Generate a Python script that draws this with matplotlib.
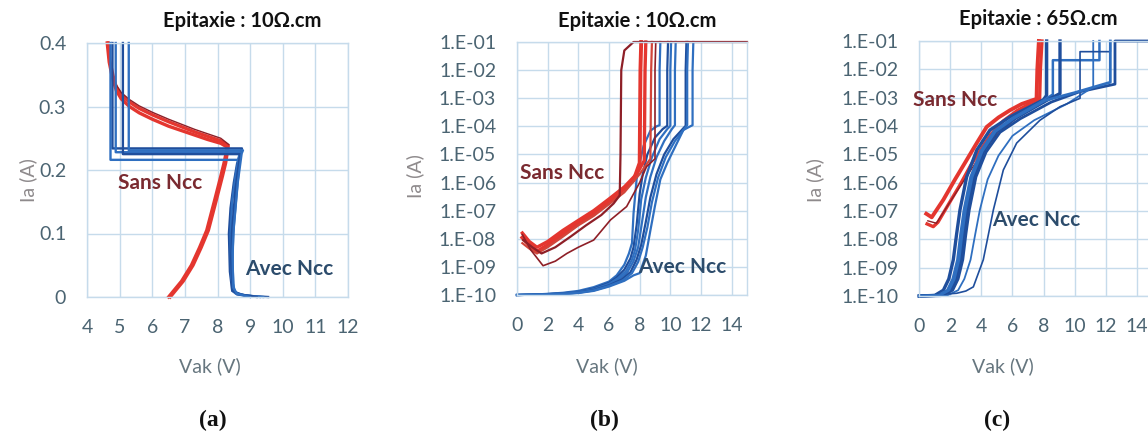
import matplotlib
matplotlib.use("Agg")
import matplotlib.pyplot as plt
from matplotlib.ticker import FixedLocator, FixedFormatter, NullLocator

plt.rcParams['font.family'] = ['Lato', 'DejaVu Sans']

W, H = 1148, 437

# ---------------- Panel (a) data : linear Ia vs Vak ----------------
a_xticks = [4, 5, 6, 7, 8, 9, 10, 11, 12]
a_yticks = [0, 0.1, 0.2, 0.3, 0.4]
a_ytick_labels = ['0', '0.1', '0.2', '0.3', '0.4']

a_red1_x = [6.50, 6.90, 7.20, 7.45, 7.67, 7.90, 8.10, 8.20, 8.30, 8.10, 7.70, 7.30, 6.90, 6.50, 6.00, 5.60, 5.30, 5.05, 4.90, 4.78, 4.68, 4.62]
a_red1_y = [0.000, 0.025, 0.050, 0.078, 0.105, 0.150, 0.190, 0.211, 0.236, 0.242, 0.248, 0.255, 0.262, 0.269, 0.280, 0.290, 0.300, 0.312, 0.325, 0.345, 0.370, 0.400]
a_red2_x = [6.55, 6.95, 7.25, 7.50, 7.72, 7.95, 8.15, 8.25, 8.33, 8.10, 7.70, 7.30, 6.90, 6.50, 6.00, 5.60, 5.30, 5.05, 4.90, 4.80, 4.70, 4.65]
a_red2_y = [0.000, 0.025, 0.050, 0.078, 0.105, 0.150, 0.190, 0.211, 0.238, 0.246, 0.253, 0.260, 0.268, 0.276, 0.287, 0.297, 0.307, 0.318, 0.330, 0.348, 0.372, 0.400]
a_dred_x = [8.35, 8.10, 7.70, 7.30, 6.90, 6.50, 6.00, 5.60, 5.30, 5.05, 4.90]
a_dred_y = [0.240, 0.250, 0.257, 0.264, 0.272, 0.280, 0.291, 0.301, 0.311, 0.322, 0.334]

a_blue1_x = [9.55, 9.20, 8.90, 8.60, 8.45, 8.38, 8.35, 8.40, 8.50, 8.60, 8.72, 8.75, 6.00, 4.78, 4.78, 4.78]
a_blue1_y = [0.000, 0.001, 0.002, 0.004, 0.010, 0.040, 0.100, 0.140, 0.180, 0.210, 0.230, 0.234, 0.234, 0.234, 0.300, 0.400]
a_blue2_x = [9.40, 8.90, 8.55, 8.42, 8.40, 8.45, 8.55, 8.66, 8.70, 6.00, 4.88, 4.88]
a_blue2_y = [0.000, 0.002, 0.006, 0.030, 0.100, 0.150, 0.190, 0.222, 0.228, 0.228, 0.228, 0.400]
a_blue3_x = [9.30, 8.80, 8.50, 8.46, 8.48, 8.58, 8.66, 8.68, 6.00, 4.72, 4.72]
a_blue3_y = [0.000, 0.003, 0.008, 0.050, 0.100, 0.160, 0.205, 0.216, 0.216, 0.216, 0.400]
a_blue4_x = [9.20, 8.70, 8.45, 8.42, 8.44, 8.55, 8.68, 8.72, 6.00, 5.10, 5.10]
a_blue4_y = [0.000, 0.004, 0.010, 0.060, 0.100, 0.170, 0.220, 0.225, 0.225, 0.225, 0.400]
a_blue5_x = [9.00, 8.60, 8.48, 8.46, 8.50, 8.62, 8.74, 8.78, 6.00, 5.28, 5.28]
a_blue5_y = [0.000, 0.005, 0.015, 0.070, 0.110, 0.180, 0.226, 0.231, 0.231, 0.231, 0.400]

# ---------------- Panel (b) data : log Ia vs Vak, 10 ohm.cm ----------------
log_ticks = [1e-10, 1e-9, 1e-8, 1e-7, 1e-6, 1e-5, 1e-4, 1e-3, 1e-2, 1e-1]
log_labels = ['1.E-10', '1.E-09', '1.E-08', '1.E-07', '1.E-06', '1.E-05', '1.E-04', '1.E-03', '1.E-02', '1.E-01']
bc_xticks = [0, 2, 4, 6, 8, 10, 12, 14]

b_red1_x = [0.35, 0.8, 1.3, 2.0, 3.0, 4.0, 5.0, 6.0, 7.0, 7.6, 8.0, 8.05, 8.1]
b_red1_y = [1.1e-8, 6e-9, 3.5e-9, 6e-9, 1.5e-8, 3.5e-8, 7.5e-8, 2e-7, 6e-7, 1.2e-6, 5e-6, 1e-2, 1e-1]
b_red2_x = [0.35, 0.8, 1.3, 2.0, 3.0, 4.0, 5.0, 6.0, 7.0, 7.8, 8.3, 8.35, 8.4]
b_red2_y = [1.6e-8, 8e-9, 5e-9, 8e-9, 2e-8, 4.5e-8, 1e-7, 2.6e-7, 7e-7, 2e-6, 6e-6, 1e-2, 1e-1]
b_red3_x = [0.35, 0.8, 1.3, 2.0, 3.0, 4.0, 5.0, 6.0, 7.0, 8.0, 8.7, 8.75, 8.8]
b_red3_y = [7e-9, 4.5e-9, 3e-9, 5e-9, 1.2e-8, 3e-8, 6.5e-8, 1.7e-7, 4.5e-7, 2e-6, 7e-6, 1e-2, 1e-1]
b_dred1_x = [0.35, 0.9, 1.7, 2.5, 3.25, 4.0, 5.0, 6.1, 7.15, 8.0, 8.45, 9.0, 9.0, 9.05]
b_dred1_y = [1.4e-8, 4e-9, 1.1e-9, 1.6e-9, 3e-9, 5e-9, 9e-9, 4.7e-8, 1.4e-7, 1e-6, 3.7e-6, 7e-6, 1e-2, 1e-1]
b_dred2_x = [0.4, 1.0, 1.6, 2.5, 3.5, 4.5, 5.5, 6.3, 6.7, 6.75, 6.8, 7.0, 7.6, 15.0]
b_dred2_y = [9e-9, 5e-9, 3e-9, 5e-9, 1.2e-8, 3e-8, 7e-8, 1.8e-7, 3.5e-7, 1e-5, 1e-2, 5e-2, 1e-1, 1e-1]

b_blue1_x = [0, 1, 2, 3, 4, 5, 6, 6.5, 7.0, 7.3, 7.5, 7.6, 7.8, 8.0, 8.25, 8.7, 9.1, 9.3, 9.3, 9.35]
b_blue1_y = [1e-10, 1.03e-10, 1.1e-10, 1.2e-10, 1.4e-10, 1.9e-10, 3e-10, 5e-10, 1.2e-9, 3e-9, 7e-9, 8e-8, 1.3e-6, 5e-6, 2e-5, 7e-5, 1e-4, 1.1e-4, 1e-2, 1e-1]
b_blue2_x = [0, 1, 2, 3, 4, 5, 6, 6.5, 7.0, 7.4, 7.6, 7.8, 8.0, 8.2, 8.5, 9.0, 9.5, 9.8, 9.8, 9.85]
b_blue2_y = [1e-10, 1.03e-10, 1.08e-10, 1.15e-10, 1.3e-10, 1.7e-10, 2.7e-10, 4.2e-10, 8e-10, 2e-9, 5e-9, 3e-8, 4e-7, 2e-6, 1e-5, 4e-5, 8e-5, 1.05e-4, 1e-2, 1e-1]
b_blue3_x = [0, 1, 2, 3, 4, 5, 6, 6.6, 7.1, 7.5, 7.7, 7.9, 8.1, 8.4, 8.8, 9.3, 9.8, 10.0, 10.0, 10.05]
b_blue3_y = [1e-10, 1.02e-10, 1.07e-10, 1.14e-10, 1.28e-10, 1.6e-10, 2.5e-10, 4e-10, 7e-10, 1.8e-9, 4e-9, 2e-8, 2.5e-7, 1.5e-6, 8e-6, 3.5e-5, 8e-5, 1.05e-4, 1e-2, 1e-1]
b_blue4_x = [0, 1, 2, 3, 4, 5, 6, 6.7, 7.2, 7.6, 7.9, 8.1, 8.4, 8.7, 9.1, 9.6, 10.1, 10.3, 10.3, 10.35]
b_blue4_y = [1e-10, 1.02e-10, 1.06e-10, 1.12e-10, 1.25e-10, 1.55e-10, 2.3e-10, 3.8e-10, 6.5e-10, 1.6e-9, 5e-9, 2.5e-8, 3e-7, 1.6e-6, 8e-6, 3e-5, 8e-5, 1.1e-4, 1e-2, 1e-1]
b_blue5_x = [0, 1, 2, 3, 4, 5, 6, 6.8, 7.4, 7.8, 8.1, 8.4, 8.7, 9.1, 9.6, 10.2, 10.8, 11.0, 11.0, 11.05]
b_blue5_y = [1e-10, 1.02e-10, 1.05e-10, 1.1e-10, 1.22e-10, 1.5e-10, 2.2e-10, 3.5e-10, 6.5e-10, 1.8e-9, 6e-9, 4e-8, 3e-7, 2e-6, 1e-5, 3.5e-5, 8e-5, 1.05e-4, 1e-2, 1e-1]
b_blue6_x = [0, 1, 2, 3, 4, 5, 6, 6.9, 7.5, 7.9, 8.2, 8.5, 8.8, 9.2, 9.7, 10.3, 10.9, 11.1, 11.1, 11.15]
b_blue6_y = [1e-10, 1.02e-10, 1.05e-10, 1.1e-10, 1.2e-10, 1.45e-10, 2.1e-10, 3.3e-10, 6e-10, 1.5e-9, 5e-9, 2.5e-8, 2e-7, 1.5e-6, 8e-6, 3e-5, 8e-5, 1.1e-4, 1e-2, 1e-1]
b_blue7_x = [0, 1, 2, 3, 4, 5, 6, 7.0, 7.6, 8.0, 8.4, 8.7, 9.0, 9.35, 9.8, 10.2, 10.85, 11.3, 11.45, 11.45, 11.5]
b_blue7_y = [1e-10, 1.02e-10, 1.04e-10, 1.08e-10, 1.18e-10, 1.4e-10, 2e-10, 3.2e-10, 5e-10, 6e-10, 2.5e-9, 2e-8, 1.5e-7, 1.3e-6, 5e-6, 1.4e-5, 7.4e-5, 1e-4, 1.1e-4, 1e-2, 1e-1]

# ---------------- Panel (c) data : log Ia vs Vak, 65 ohm.cm ----------------
c_red1_x = [0.45, 0.8, 1.55, 2.3, 3.05, 3.7, 4.34, 5.1, 5.84, 6.6, 7.34, 7.55, 7.6, 7.7]
c_red1_y = [8e-8, 6e-8, 2.5e-7, 1.3e-6, 6.3e-6, 2.5e-5, 9.3e-5, 2e-4, 3.6e-4, 6e-4, 8.3e-4, 9e-4, 1e-2, 1e-1]
c_red2_x = [0.5, 0.9, 1.2, 1.9, 2.6, 3.3, 3.9, 4.6, 5.4, 6.3, 7.2, 7.75, 7.8, 7.9]
c_red2_y = [3.5e-8, 2.8e-8, 4e-8, 1.8e-7, 8e-7, 4e-6, 1.3e-5, 5e-5, 1.5e-4, 3.5e-4, 6.5e-4, 9e-4, 1e-2, 1e-1]
c_dred_x = [0.55, 1.1, 2.6, 3.9, 5.0, 6.5, 7.5]
c_dred_y = [4.5e-8, 3.7e-8, 7e-7, 8.5e-6, 5e-5, 2.5e-4, 6e-4]

c_blue1_x = [0, 1.0, 1.55, 1.9, 2.19, 2.4, 2.62, 3.05, 3.7, 4.55, 5.84, 7.98, 8.2, 8.2]
c_blue1_y = [1e-10, 1.05e-10, 1.6e-10, 4e-10, 1.9e-9, 1.5e-8, 1.1e-7, 1.6e-6, 1.4e-5, 7.2e-5, 2.1e-4, 8.3e-4, 1.2e-3, 1e-1]
c_blue2_x = [0, 1.2, 1.8, 2.15, 2.45, 2.65, 2.87, 3.3, 3.95, 4.8, 6.0, 8.0, 8.6, 8.6, 11.6, 11.6]
c_blue2_y = [1e-10, 1.05e-10, 1.6e-10, 4e-10, 1.9e-9, 1.5e-8, 1.1e-7, 1.6e-6, 1.3e-5, 6.5e-5, 1.9e-4, 8e-4, 1.3e-3, 2.1e-2, 2.1e-2, 1e-1]
c_blue3_x = [0, 1.4, 2.0, 2.35, 2.65, 2.85, 3.07, 3.5, 4.15, 5.0, 6.2, 8.2, 9.06, 9.06]
c_blue3_y = [1e-10, 1.05e-10, 1.6e-10, 4e-10, 1.9e-9, 1.5e-8, 1.1e-7, 1.6e-6, 1.3e-5, 6.5e-5, 1.9e-4, 8e-4, 1.4e-3, 1e-1]
c_blue4_x = [0, 1.5, 2.15, 2.5, 2.8, 3.0, 3.22, 3.65, 4.3, 5.2, 6.5, 8.5, 10.3, 12.6, 12.6, 16.0]
c_blue4_y = [1e-10, 1.05e-10, 1.6e-10, 4e-10, 1.9e-9, 1.5e-8, 1.1e-7, 1.6e-6, 1.2e-5, 6e-5, 1.8e-4, 7e-4, 1.6e-3, 3e-3, 1e-1, 1e-1]
c_blue5_x = [0, 1.8, 2.5, 2.9, 3.3, 3.6, 3.9, 4.4, 5.1, 6.0, 7.4, 9.5, 11.2, 11.2]
c_blue5_y = [1e-10, 1.05e-10, 1.6e-10, 4e-10, 1.9e-9, 1.5e-8, 1.1e-7, 1.3e-6, 9e-6, 4.5e-5, 1.6e-4, 6e-4, 2.4e-3, 1e-1]
c_blue6_x = [0, 2.41, 3.0, 3.48, 4.12, 4.77, 5.41, 6.27, 7.77, 9.06, 10.35, 10.35, 12.3, 12.3]
c_blue6_y = [1e-10, 1.25e-10, 1.5e-10, 2.1e-10, 1.9e-9, 1.1e-7, 2.8e-6, 2.5e-5, 1.6e-4, 4.8e-4, 9.5e-4, 4.2e-2, 4.2e-2, 1e-1]
c_blue7_x = [0, 1.3, 1.9, 2.25, 2.55, 2.75, 2.97, 3.4, 4.05, 4.9, 6.1, 8.1, 10.0, 12.3, 12.3]
c_blue7_y = [1e-10, 1.05e-10, 1.6e-10, 4e-10, 1.9e-9, 1.5e-8, 1.1e-7, 1.6e-6, 1.3e-5, 6.5e-5, 1.9e-4, 8e-4, 1.5e-3, 3.5e-3, 1e-1]

# ---------------- Styling ----------------
RED = '#e4362f'
DRED = '#8e1f27'
BLUE = '#2f6fc0'
DBLUE = '#1f4e9c'
GRID = '#c6dbeb'
TICKC = '#4b6472'
LABC = '#66767f'
YLABC = '#8e8a8c'
SANS_C = '#7a2a30'
AVEC_C = '#2c4c6c'

fig = plt.figure(figsize=(W / 100, H / 100), dpi=100)
fig.patch.set_facecolor('white')


def px_axes(l, r, t, b):
    return fig.add_axes([l / W, 1 - b / H, (r - l) / W, (b - t) / H])


def style(ax):
    for s in ax.spines.values():
        s.set_color(GRID)
        s.set_linewidth(1.0)
    ax.grid(True, color=GRID, linewidth=1.0)
    ax.set_axisbelow(True)
    ax.tick_params(length=0, labelsize=14, labelcolor=TICKC)
    ax.tick_params(axis='x', pad=16)
    ax.tick_params(axis='y', pad=15)


def ftext(x, y, s, **kw):
    fig.text(x / W, 1 - y / H, s, **kw)


def draw(ax, x, y, c, lw):
    ax.plot(x, y, color=c, linewidth=lw, clip_on=False, solid_joinstyle='round')


# Panel (a)
axa = px_axes(87, 348, 43, 297)
style(axa)
axa.set_xlim(4, 12)
axa.set_ylim(0, 0.4)
axa.set_xticks(a_xticks)
axa.set_yticks(a_yticks)
axa.set_yticklabels(a_ytick_labels)
draw(axa, a_red1_x, a_red1_y, RED, 2.4)
draw(axa, a_red2_x, a_red2_y, RED, 2.4)
draw(axa, a_dred_x, a_dred_y, DRED, 1.0)
for bx, by, c in [(a_blue1_x, a_blue1_y, DBLUE), (a_blue2_x, a_blue2_y, BLUE),
                  (a_blue3_x, a_blue3_y, BLUE), (a_blue4_x, a_blue4_y, DBLUE),
                  (a_blue5_x, a_blue5_y, BLUE)]:
    draw(axa, bx, by, c, 1.7)

# Panel (b)
axb = px_axes(517, 747, 42, 295)
style(axb)
axb.set_yscale('log')
axb.set_xlim(0, 15)
axb.set_ylim(1e-10, 1e-1)
axb.set_xticks(bc_xticks)
axb.yaxis.set_major_locator(FixedLocator(log_ticks))
axb.yaxis.set_major_formatter(FixedFormatter(log_labels))
axb.yaxis.set_minor_locator(NullLocator())
for bx, by, c in [(b_blue1_x, b_blue1_y, BLUE), (b_blue2_x, b_blue2_y, DBLUE),
                  (b_blue3_x, b_blue3_y, BLUE), (b_blue4_x, b_blue4_y, BLUE),
                  (b_blue5_x, b_blue5_y, DBLUE), (b_blue6_x, b_blue6_y, BLUE),
                  (b_blue7_x, b_blue7_y, BLUE)]:
    draw(axb, bx, by, c, 1.6)
draw(axb, b_red1_x, b_red1_y, RED, 2.8)
draw(axb, b_red2_x, b_red2_y, RED, 2.4)
draw(axb, b_red3_x, b_red3_y, '#d2453a', 1.6)
draw(axb, b_dred1_x, b_dred1_y, DRED, 1.2)
draw(axb, b_dred2_x, b_dred2_y, DRED, 1.6)

# Panel (c)
axc = px_axes(919.3, 919.3 + 16 * 15.53, 41, 296)
style(axc)
axc.set_yscale('log')
axc.set_xlim(0, 16)
axc.set_ylim(1e-10, 1e-1)
axc.set_xticks(bc_xticks)
axc.yaxis.set_major_locator(FixedLocator(log_ticks))
axc.yaxis.set_major_formatter(FixedFormatter(log_labels))
axc.yaxis.set_minor_locator(NullLocator())
draw(axc, c_red1_x, c_red1_y, RED, 2.8)
draw(axc, c_red2_x, c_red2_y, RED, 2.4)
draw(axc, c_dred_x, c_dred_y, DRED, 1.0)
for bx, by, c, lw in [(c_blue1_x, c_blue1_y, DBLUE, 2.4), (c_blue2_x, c_blue2_y, BLUE, 1.8),
                      (c_blue3_x, c_blue3_y, DBLUE, 2.4), (c_blue4_x, c_blue4_y, DBLUE, 2.0),
                      (c_blue5_x, c_blue5_y, BLUE, 1.3), (c_blue6_x, c_blue6_y, DBLUE, 1.2),
                      (c_blue7_x, c_blue7_y, BLUE, 2.0)]:
    draw(axc, bx, by, c, lw)

# Titles
title_font = dict(fontsize=14.5, fontweight='bold', color='#111111', ha='center', va='center')
ftext(242, 21, 'Epitaxie : 10Ω.cm', **title_font)
ftext(637, 21, 'Epitaxie : 10Ω.cm', **title_font)
ftext(1038, 19, 'Epitaxie : 65Ω.cm', **title_font)

# Axis labels
for x, y in [(28, 180), (415, 176), (815, 180)]:
    ftext(x, y, 'Ia (A)', fontsize=14, color=YLABC, rotation=90, ha='center', va='center')
for x, y in [(210, 366), (607, 366), (1003, 366)]:
    ftext(x, y, 'Vak (V)', fontsize=14, color=LABC, ha='center', va='center')

# Annotations
ann = dict(fontsize=15, fontweight='bold', ha='left', va='center')
ftext(118, 183, 'Sans Ncc', color=SANS_C, **ann)
ftext(245, 269, 'Avec Ncc', color=AVEC_C, **ann)
ftext(520, 173, 'Sans Ncc', color=SANS_C, **ann)
ftext(638, 267, 'Avec Ncc', color=AVEC_C, **ann)
ftext(913, 100, 'Sans Ncc', color=SANS_C, **ann)
ftext(992, 220, 'Avec Ncc', color=AVEC_C, **ann)

# Sub-figure letters
sub = dict(fontsize=17, fontweight='bold', family='Liberation Serif', color='#111111', ha='center', va='center')
ftext(213, 420, '(a)', **sub)
ftext(604, 420, '(b)', **sub)
ftext(997, 420, '(c)', **sub)

fig.savefig('out.png', dpi=100, facecolor='white')
